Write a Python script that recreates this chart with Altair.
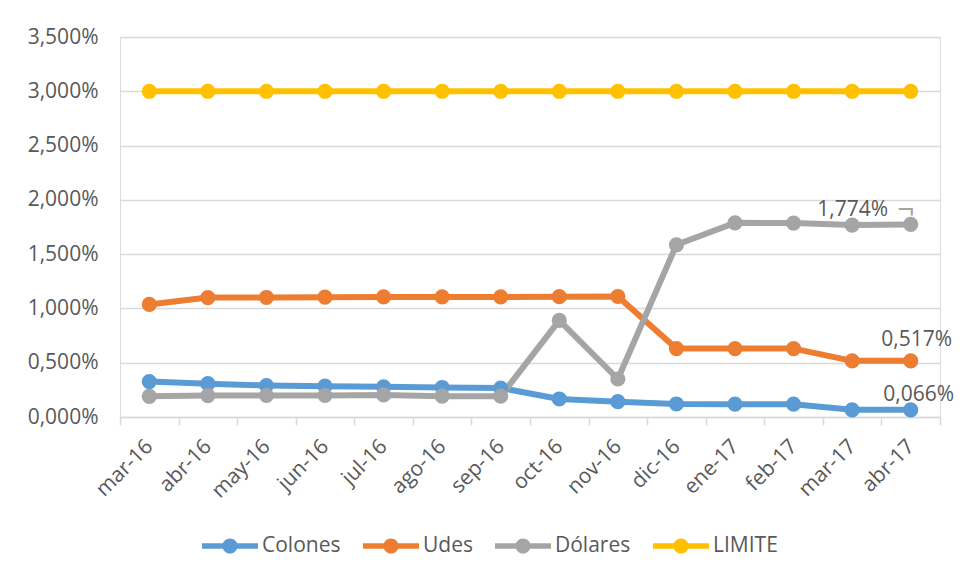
import altair as alt
import pandas as pd

months = ["mar-16", "abr-16", "may-16", "jun-16", "jul-16", "ago-16", "sep-16",
          "oct-16", "nov-16", "dic-16", "ene-17", "feb-17", "mar-17", "abr-17"]
colones = [0.326, 0.307, 0.290, 0.284, 0.278, 0.272, 0.267,
           0.166, 0.141, 0.120, 0.118, 0.118, 0.066, 0.066]
udes = [1.037, 1.100, 1.101, 1.104, 1.106, 1.106, 1.106,
        1.108, 1.110, 0.630, 0.630, 0.630, 0.517, 0.517]
dolares = [0.190, 0.197, 0.198, 0.198, 0.203, 0.192, 0.192,
           0.890, 0.350, 1.586, 1.788, 1.786, 1.768, 1.774]
limite = [3.0, 3.0, 3.0, 3.0, 3.0, 3.0, 3.0,
          3.0, 3.0, 3.0, 3.0, 3.0, 3.0, 3.0]

series_names = ["Colones", "Udes", "Dólares", "LIMITE"]
series_colors = ["#5B9BD5", "#ED7D31", "#A5A5A5", "#FFC000"]
y_ticks = [0, 0.5, 1.0, 1.5, 2.0, 2.5, 3.0, 3.5]

rows = []
for name, vals in zip(series_names, [colones, udes, dolares, limite]):
    for m, v in zip(months, vals):
        rows.append({"mes": m, "serie": name, "valor": v})
df = pd.DataFrame(rows)

def fmt(v):
    return f"{v:.3f}".replace(".", ",") + "%"

FONT = "Open Sans"
TXT = "#595959"
FS = 21

x_enc = alt.X("mes:N", sort=months,
              scale=alt.Scale(type="band", paddingInner=0, paddingOuter=0),
              axis=alt.Axis(title=None, tickBand="extent", labelAngle=315,
                            labelAlign="right", labelBaseline="middle",
                            labelPadding=18, tickSize=8, tickColor="#D9D9D9",
                            tickWidth=1.5, domainColor="#D9D9D9", domainWidth=1.5,
                            labelFont=FONT, labelFontSize=FS, labelColor=TXT, grid=False))
y_enc = alt.Y("valor:Q", scale=alt.Scale(domain=[0, 3.5], nice=False),
              axis=alt.Axis(title=None, values=y_ticks, domain=False, ticks=False,
                            labelExpr="replace(format(datum.value, '.3f'), '.', ',') + '%'",
                            labelPadding=22, labelFont=FONT, labelFontSize=FS,
                            labelColor=TXT, gridColor="#D9D9D9", gridWidth=1.5))

color_scale = alt.Scale(domain=series_names, range=series_colors)

sym_path = ("M-1,-0.1 L1,-0.1 L1,0.1 L-1,0.1 Z "
            "M0.27,0 A0.27,0.27 0 1,1 -0.27,0 A0.27,0.27 0 1,1 0.27,0 Z")

legend = alt.Legend(title=None, orient="none", direction="horizontal",
                    legendX=82, legendY=481, symbolType=sym_path,
                    symbolSize=3136, symbolStrokeWidth=0,
                    labelFont=FONT, labelFontSize=FS, labelColor=TXT,
                    labelOffset=4, columnPadding=22)

lines = alt.Chart(df).mark_line(strokeWidth=6, strokeCap="round", strokeJoin="round").encode(
    x=x_enc, y=y_enc,
    color=alt.Color("serie:N", scale=color_scale, legend=legend),
)
points = alt.Chart(df).mark_point(filled=True, size=230, shape="circle", opacity=1).encode(
    x=x_enc, y=y_enc,
    color=alt.Color("serie:N", scale=color_scale, legend=legend),
)

lab_specs = [
    (dolares, -58, -14, FS, TXT, None),
    (udes, 6, -21, FS, TXT, None),
    (colones, 8, -15, FS, TXT, None),
    (dolares, -5, -14, 30, "#A5A5A5", "¬"),
]
labels = []
for vals, dx, dy, fs, col, txt in lab_specs:
    ldf = pd.DataFrame({"mes": [months[-1]], "valor": [vals[-1]],
                        "txt": [txt if txt else fmt(vals[-1])]})
    labels.append(
        alt.Chart(ldf).mark_text(font=FONT, fontSize=fs, color=col, dx=dx, dy=dy,
                                 align="center", baseline="middle").encode(
            x=alt.X("mes:N", sort=months), y="valor:Q", text="txt:N")
    )

chart = alt.layer(lines, points, *labels).properties(
    width=820, height=380,
    autosize=alt.AutoSizeParams(type="none"),
    padding={"left": 112, "top": 29, "right": 15, "bottom": 150},
).configure_view(strokeWidth=0).configure(background="white")

chart.save("out.html", embed_options={"renderer": "svg", "actions": False})
